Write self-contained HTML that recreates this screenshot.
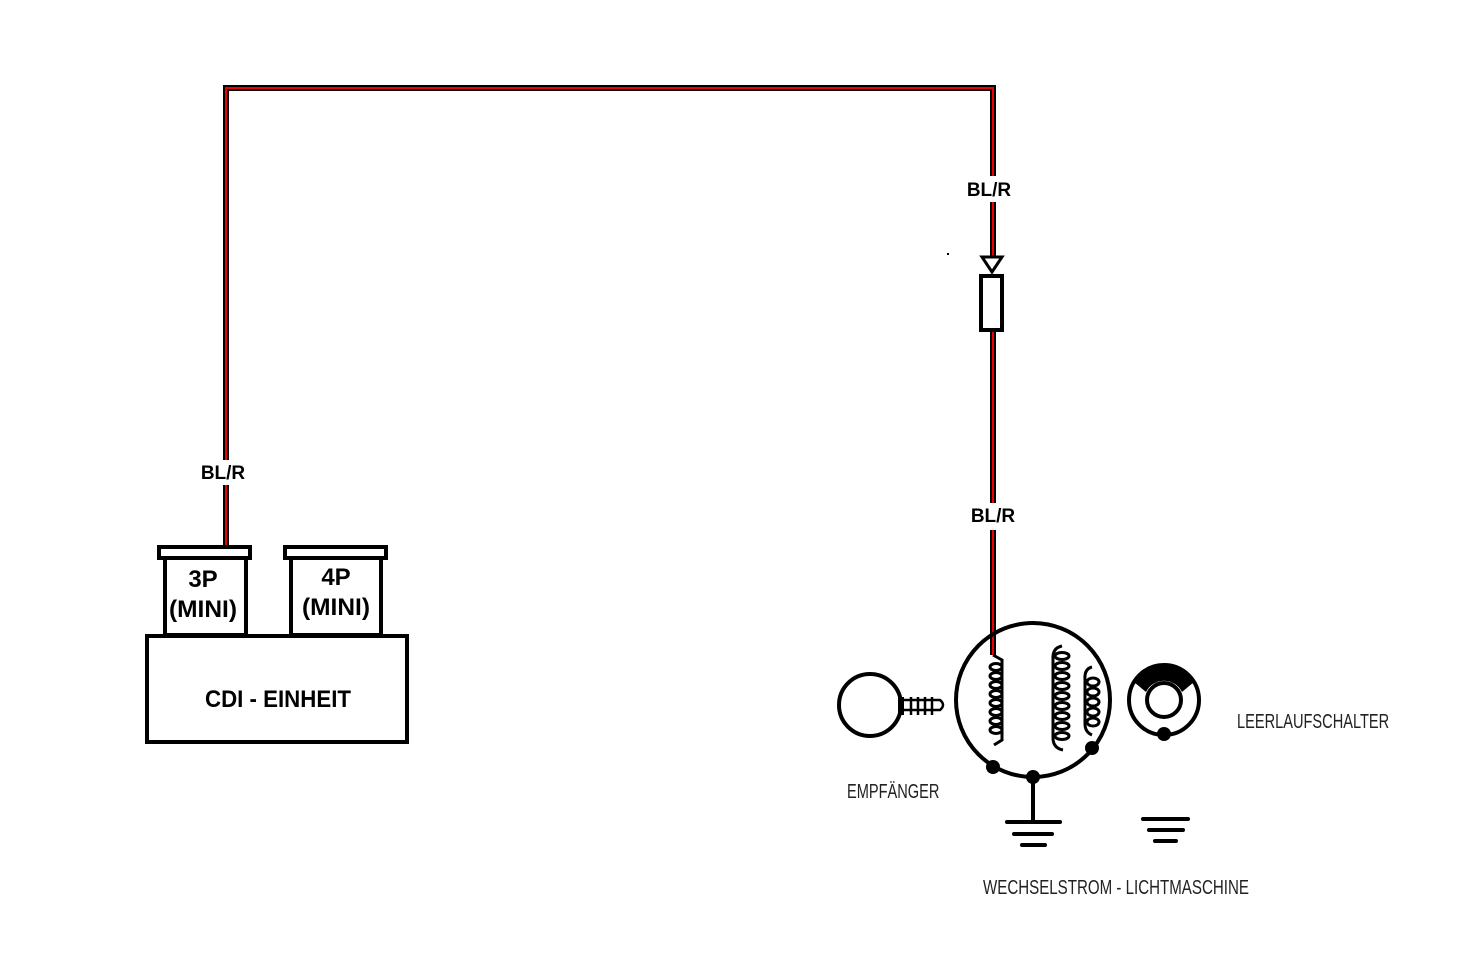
<!DOCTYPE html>
<html><head><meta charset="utf-8"><style>
html,body{margin:0;padding:0;background:#fff;}
svg{display:block}
.b{font-family:"Liberation Sans",sans-serif;font-weight:bold;font-size:19px;fill:#000}
.n{font-family:"Liberation Sans",sans-serif;font-size:20px;fill:#222}
</style></head><body>
<svg width="1469" height="969" viewBox="0 0 1469 969" xmlns="http://www.w3.org/2000/svg">
<rect width="1469" height="969" fill="#fff"/>
<g fill="none" stroke-linejoin="miter">
<path d="M226 460 V88 H993 V176" stroke="#000" stroke-width="6"/>
<path d="M226 460 V88 H993 V176" stroke="#e00" stroke-width="2"/>
<path d="M226 485 V547" stroke="#000" stroke-width="6"/>
<path d="M226 485 V547" stroke="#e00" stroke-width="2"/>
<path d="M993 202 V256" stroke="#000" stroke-width="6"/>
<path d="M993 202 V256" stroke="#e00" stroke-width="2"/>
<path d="M993 331 V503" stroke="#000" stroke-width="6"/>
<path d="M993 331 V503" stroke="#e00" stroke-width="2"/>
<path d="M993 530 V655" stroke="#000" stroke-width="6"/>
<path d="M993 530 V655" stroke="#e00" stroke-width="2"/>
</g>
<text class="b" x="223" y="479" text-anchor="middle">BL/R</text>
<text class="b" x="989" y="196" text-anchor="middle">BL/R</text>
<text class="b" x="993" y="522" text-anchor="middle">BL/R</text>
<rect x="947" y="253" width="2" height="2" fill="#000"/>
<path d="M982 257 H1002 L992 272 Z" fill="#fff" stroke="#000" stroke-width="3"/>
<rect x="981" y="276" width="21" height="54" fill="#fff" stroke="#000" stroke-width="4"/>
<g fill="#fff" stroke="#000" stroke-width="4">
<rect x="159" y="547" width="91" height="11"/>
<rect x="165" y="558" width="81" height="77"/>
<rect x="285" y="547" width="101" height="11"/>
<rect x="291" y="558" width="90" height="77"/>
<rect x="147" y="636" width="260" height="106"/>
</g>
<text class="b" x="203" y="587" text-anchor="middle" style="font-size:24px">3P</text>
<text class="b" x="203" y="617" text-anchor="middle" style="font-size:24px" textLength="68" lengthAdjust="spacingAndGlyphs">(MINI)</text>
<text class="b" x="336" y="585" text-anchor="middle" style="font-size:24px">4P</text>
<text class="b" x="336" y="615" text-anchor="middle" style="font-size:24px" textLength="68" lengthAdjust="spacingAndGlyphs">(MINI)</text>
<text class="b" x="278" y="707" text-anchor="middle" style="font-size:24px" textLength="146" lengthAdjust="spacingAndGlyphs">CDI - EINHEIT</text>
<circle cx="1033" cy="700" r="77" fill="none" stroke="#000" stroke-width="4"/>
<g fill="none" stroke="#000" stroke-width="3">
<path d="M993 655 L1002 660 V740 L994 745"/>
<ellipse cx="996" cy="667" rx="6" ry="3.5"/><ellipse cx="996" cy="676" rx="6" ry="3.5"/>
<ellipse cx="996" cy="685" rx="6" ry="3.5"/><ellipse cx="996" cy="694" rx="6" ry="3.5"/>
<ellipse cx="996" cy="703" rx="6" ry="3.5"/><ellipse cx="996" cy="712" rx="6" ry="3.5"/>
<ellipse cx="996" cy="721" rx="6" ry="3.5"/><ellipse cx="996" cy="730" rx="6" ry="3.5"/>
<path d="M1062 646 Q1052 648 1053 660 V738 Q1053 748 1063 750"/>
<ellipse cx="1062" cy="656" rx="7" ry="3.5"/><ellipse cx="1062" cy="666" rx="7" ry="3.5"/>
<ellipse cx="1062" cy="676" rx="7" ry="3.5"/><ellipse cx="1062" cy="686" rx="7" ry="3.5"/>
<ellipse cx="1062" cy="696" rx="7" ry="3.5"/><ellipse cx="1062" cy="706" rx="7" ry="3.5"/>
<ellipse cx="1062" cy="716" rx="7" ry="3.5"/><ellipse cx="1062" cy="726" rx="7" ry="3.5"/>
<ellipse cx="1062" cy="736" rx="7" ry="3.5"/>
<path d="M1092 667 Q1084 669 1085 680 V724 Q1085 732 1092 735"/>
<ellipse cx="1093" cy="682" rx="6" ry="4"/><ellipse cx="1093" cy="692" rx="6" ry="4"/>
<ellipse cx="1093" cy="702" rx="6" ry="4"/><ellipse cx="1093" cy="712" rx="6" ry="4"/>
<ellipse cx="1093" cy="722" rx="6" ry="4"/>
</g>
<circle cx="993" cy="767" r="7" fill="#000"/>
<circle cx="1033" cy="777" r="7" fill="#000"/>
<circle cx="1092" cy="748" r="7" fill="#000"/>
<path d="M1033 777 V822" stroke="#000" stroke-width="4"/>
<g stroke="#000" stroke-width="4" stroke-linecap="round">
<path d="M1007 822 H1060"/><path d="M1014 834 H1052"/><path d="M1022 845 H1045"/>
<path d="M1143 819 H1188"/><path d="M1149 830 H1183"/><path d="M1155 841 H1176"/>
</g>
<circle cx="870" cy="705" r="31" fill="none" stroke="#000" stroke-width="4"/>
<rect x="898" y="697" width="6" height="18" fill="#000"/>
<g fill="none" stroke="#000" stroke-width="2.5">
<path d="M904 700 H940 Q946 705 940 710 H904"/>
<path d="M911 697 V715 M918 697 V715 M925 697 V715 M932 697 V715"/>
</g>
<circle cx="1164" cy="700" r="35" fill="none" stroke="#000" stroke-width="4"/>
<path d="M1134 682 A35 35 0 0 1 1194 682 L1182 692 A20 20 0 0 0 1146 692 Z" fill="#000"/>
<circle cx="1164" cy="700" r="17" fill="none" stroke="#000" stroke-width="4"/>
<circle cx="1164" cy="734" r="7" fill="#000"/>
<text class="n" transform="translate(847 798) scale(0.73 1)">EMPFÄNGER</text>
<text class="n" transform="translate(1237 728) scale(0.73 1)">LEERLAUFSCHALTER</text>
<text class="n" transform="translate(983 894) scale(0.755 1)">WECHSELSTROM - LICHTMASCHINE</text>
</svg>
</body></html>
